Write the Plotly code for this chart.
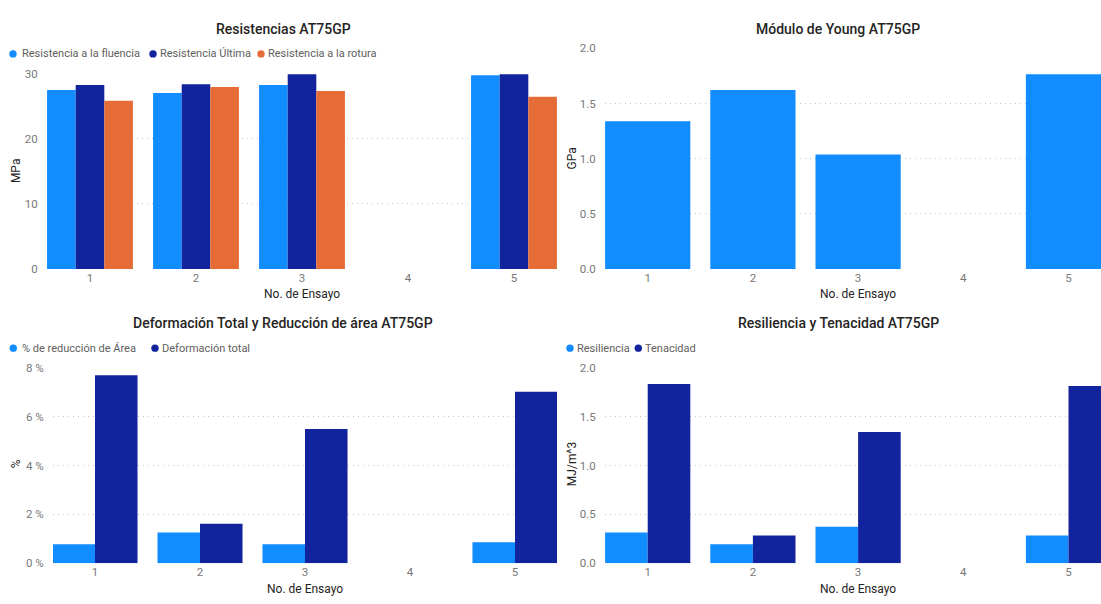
import plotly.graph_objects as go

# ---- data -------------------------------------------------------------
ensayos = ["1", "2", "3", "4", "5"]

fluencia = [27.5, 27.05, 28.25, None, 29.75]      # MPa
ultima = [28.25, 28.4, 29.9, None, 29.9]          # MPa
rotura = [25.85, 27.95, 27.35, None, 26.45]       # MPa

young = [1.339, 1.622, 1.038, None, 1.764]        # GPa

reduccion_area = [0.78, 1.26, 0.78, None, 0.86]   # %
deformacion = [7.7, 1.62, 5.5, None, 7.02]        # %

resiliencia = [0.315, 0.195, 0.375, None, 0.285]  # MJ/m^3
tenacidad = [1.835, 0.285, 1.345, None, 1.815]    # MJ/m^3

# ---- style ------------------------------------------------------------
W, H = 1101, 604
C_LIGHT = "#118DFF"
C_DARK = "#12239E"
C_ORANGE = "#E66C37"
TITLE_C = "#252423"
LABEL_C = "#605E5C"
TICK_C = "#777777"
FONT = "Roboto"


def px(x):
    return x / W


def py(y):
    return 1 - y / H


fig = go.Figure()

panel_traces = [
    ("x", "y", [("Resistencia a la fluencia", fluencia, C_LIGHT),
                ("Resistencia Última", ultima, C_DARK),
                ("Resistencia a la rotura", rotura, C_ORANGE)]),
    ("x2", "y2", [("Módulo de Young", young, C_LIGHT)]),
    ("x3", "y3", [("% de reducción de Área", reduccion_area, C_LIGHT),
                  ("Deformación total", deformacion, C_DARK)]),
    ("x4", "y4", [("Resiliencia", resiliencia, C_LIGHT),
                  ("Tenacidad", tenacidad, C_DARK)]),
]
for xa, ya, series in panel_traces:
    for name, vals, col in series:
        fig.add_trace(go.Bar(x=ensayos, y=vals, name=name, marker_color=col,
                             marker_line_width=0, xaxis=xa, yaxis=ya,
                             showlegend=False))


def xaxis(domain, rng, anchor):
    return dict(domain=domain, anchor=anchor, type="category", range=rng,
                showgrid=False, zeroline=False, showline=False, ticks="",
                tickfont=dict(family=FONT, size=11.5, color=TICK_C),
                fixedrange=True)


def yaxis(domain, rng, dtick, anchor, fmt=None, suffix=None):
    d = dict(domain=domain, anchor=anchor, range=rng, dtick=dtick,
             showgrid=True, gridcolor="#C4C4C4", gridwidth=1,
             griddash="1px,4px", zeroline=False, showline=False,
             ticks="outside", ticklen=6, tickcolor="rgba(0,0,0,0)",
             tickfont=dict(family=FONT, size=11.5, color=TICK_C),
             fixedrange=True)
    if fmt:
        d["tickformat"] = fmt
    if suffix:
        d["ticksuffix"] = suffix
    return d


top_y = [py(268.3), py(68.3)]
top_y2 = [py(268.3), py(42.3)]
bot_y = [py(569.5), py(369.5)]

fig.update_layout(
    width=W, height=H,
    margin=dict(l=0, r=0, t=0, b=0),
    paper_bgcolor="white", plot_bgcolor="white",
    barmode="group", bargap=0.19, bargroupgap=0,
    xaxis=xaxis([px(47), px(557)], [-0.4057, 4.4057], "y"),
    yaxis=yaxis(top_y, [0, 30], 10, "x"),
    xaxis2=xaxis([px(605), 1.0], [-0.4059, 4.309], "y2"),
    yaxis2=yaxis(top_y2, [0, 2], 0.5, "x2", fmt=".1f"),
    xaxis3=xaxis([px(53), px(557)], [-0.4, 4.4], "y3"),
    yaxis3=yaxis(bot_y, [0, 8], 2, "x3", suffix=" %"),
    xaxis4=xaxis([px(605), 1.0], [-0.4059, 4.309], "y4"),
    yaxis4=yaxis(bot_y, [0, 2], 0.5, "x4", fmt=".1f"),
)

annotations = []
shapes = []


def text(x, y, s, size, color, angle=0, xanchor="center", weight=400):
    annotations.append(dict(x=px(x), y=py(y), xref="paper", yref="paper",
                            text=s, showarrow=False, textangle=angle,
                            xanchor=xanchor, yanchor="middle",
                            font=dict(family=FONT, size=size, color=color,
                                      weight=weight)))


# chart titles
text(283, 23, "Resistencias AT75GP", 14, TITLE_C, weight=500)
text(838, 22.5, "Módulo de Young AT75GP", 14, TITLE_C, weight=500)
text(283, 323.3, "Deformación Total y Reducción de área AT75GP", 14,
     TITLE_C, weight=500)
text(838, 323.3, "Resiliencia y Tenacidad AT75GP", 14, TITLE_C, weight=500)

# axis titles
text(302, 294.3, "No. de Ensayo", 12, TITLE_C)
text(858, 294.3, "No. de Ensayo", 12, TITLE_C)
text(305, 596, "No. de Ensayo", 12, TITLE_C)
text(858, 596, "No. de Ensayo", 12, TITLE_C)
text(16, 168, "MPa", 12, TITLE_C, angle=-90)
text(572, 155, "GPa", 12, TITLE_C, angle=-90)
text(16, 468, "%", 12, TITLE_C, angle=-90)
text(572, 468, "MJ/m^3", 12, TITLE_C, angle=-90)

# legends: coloured dot + label
legend_items = [
    (13, 48, 20, "Resistencia a la fluencia", C_LIGHT),
    (153, 48, 158, "Resistencia Última", C_DARK),
    (261, 48, 266, "Resistencia a la rotura", C_ORANGE),
    (13.3, 349.3, 19.7, "% de reducción de Área", C_LIGHT),
    (155, 349.3, 160, "Deformación total", C_DARK),
    (570, 349.3, 575, "Resiliencia", C_LIGHT),
    (638.3, 349.3, 643.3, "Tenacidad", C_DARK),
]
R = 3.7
for cx, cy, tx, label, col in legend_items:
    shapes.append(dict(type="circle", xref="paper", yref="paper",
                       x0=px(cx - R), x1=px(cx + R),
                       y0=py(cy + R), y1=py(cy - R),
                       fillcolor=col, line=dict(width=0)))
    text(tx, cy, label, 11, LABEL_C, xanchor="left")

fig.update_layout(annotations=annotations, shapes=shapes)

fig.write_html("out.html")
